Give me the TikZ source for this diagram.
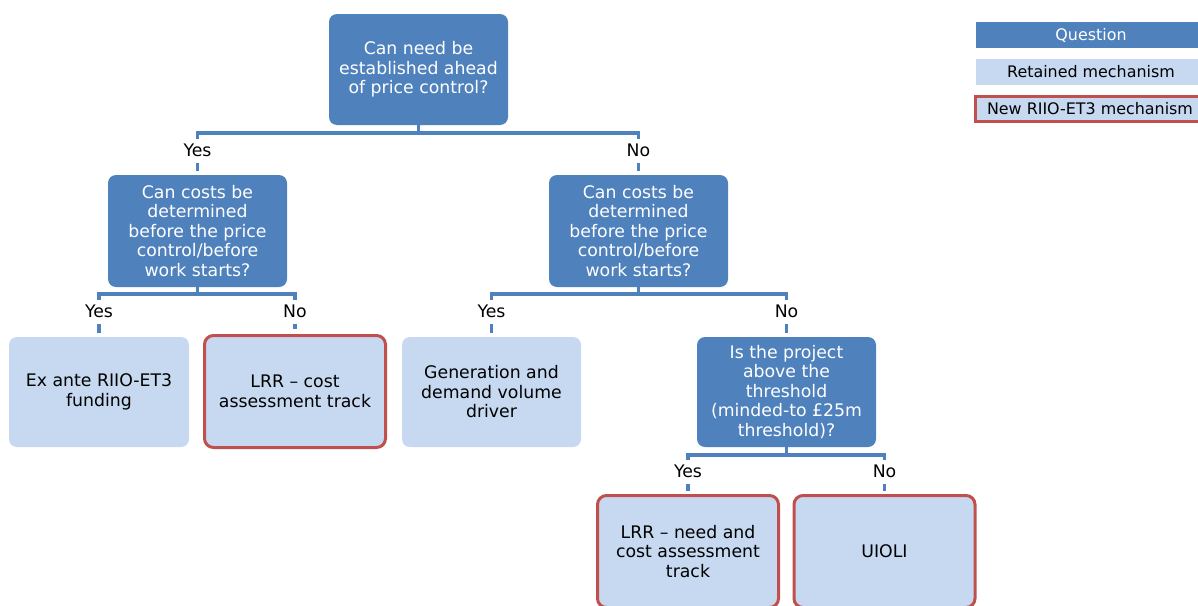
\documentclass[tikz,border=0pt]{standalone}
\usepackage{fontspec}
\setmainfont{DejaVu Sans}
\definecolor{qblue}{HTML}{4F81BD}
\definecolor{lblue}{HTML}{C6D9F0}
\definecolor{nred}{HTML}{C0504D}
\begin{document}
\begin{tikzpicture}[x=1pt,y=-1pt,
  font=\fontsize{17.3}{19.5}\selectfont,
  qbox/.style={fill=qblue, rounded corners=8pt, text=white, align=center,
    minimum width=179pt, minimum height=111pt, inner sep=0pt},
  rbox/.style={fill=lblue, rounded corners=8pt, text=black, align=center,
    minimum width=180pt, minimum height=110pt, inner sep=0pt},
  nbox/.style={fill=lblue, draw=nred, line width=3pt, rounded corners=9pt, text=black, align=center,
    minimum width=181pt, minimum height=112pt, inner sep=0pt},
  lab/.style={inner sep=0pt, text height=13pt, text depth=3.5pt},
  conn/.style={draw=qblue, line width=3.5pt},
  legfont/.style={font=\fontsize{15.9}{19}\selectfont},
  legq/.style={legfont, fill=qblue, text=white, minimum width=230pt, minimum height=26pt, inner sep=0pt},
  legr/.style={legfont, fill=lblue, text=black, minimum width=230pt, minimum height=26pt, inner sep=0pt},
  legn/.style={legfont, fill=lblue, draw=nred, line width=3pt, text=black, minimum width=229pt, minimum height=25pt, inner sep=0pt}
]
\useasboundingbox (0,0) rectangle (1198,605);

% questions
\node[qbox] (q1) at (418.5,69.5) {Can need be\\established ahead\\of price control?};
\node[qbox, minimum height=112pt] (q2l) at (197.5,231) {Can costs be\\determined\\before the price\\control/before\\work starts?};
\node[qbox, minimum height=112pt] (q2r) at (638.5,231) {Can costs be\\determined\\before the price\\control/before\\work starts?};
\node[qbox, minimum height=110pt] (q3) at (786.5,392) {Is the project\\above the\\threshold\\(minded-to £25m\\threshold)?};

% outcomes
\node[rbox] (l1) at (99,392) {Ex ante RIIO-ET3\\funding};
\node[nbox] (l2) at (295,391.5) {LRR – cost\\assessment track};
\node[rbox, minimum width=179pt] (l3) at (491.5,392) {Generation and\\demand volume\\driver};
\node[nbox] (l4) at (688,551.5) {LRR – need and\\cost assessment\\track};
\node[nbox] (l5) at (884.5,551.5) {UIOLI};

% labels
\node[lab] (y1) at (197.5,151.25) {Yes};
\node[lab] (n1) at (638.5,151.25) {No};
\node[lab] (y2) at (99,312.25) {Yes};
\node[lab] (n2) at (295,312.25) {No};
\node[lab] (y3) at (491.5,312.25) {Yes};
\node[lab] (n3) at (786.5,312.25) {No};
\node[lab] (y4) at (688,472.25) {Yes};
\node[lab] (n4) at (884.5,472.25) {No};

% connectors level 1
\draw[conn] (q1.south) -- (q1.south |- 0,133);
\draw[conn, shorten <=4pt, shorten >=4pt] (y1.north) |- (q1.south |- 0,133) -| (n1.north);
\draw[conn, shorten <=3pt, shorten >=4pt] (y1.south) -- (y1.south |- q2l.north);
\draw[conn, shorten <=3pt, shorten >=4pt] (n1.south) -- (n1.south |- q2r.north);

% level 2 left
\draw[conn] (q2l.south) -- (q2l.south |- 0,294);
\draw[conn, shorten <=4pt, shorten >=4pt] (y2.north) |- (q2l.south |- 0,294) -| (n2.north);
\draw[conn, shorten <=3pt, shorten >=4pt] (y2.south) -- (y2.south |- l1.north);
\draw[conn, shorten <=3pt, shorten >=5pt] (n2.south) -- (n2.south |- l2.north);

% level 2 right
\draw[conn] (q2r.south) -- (q2r.south |- 0,294);
\draw[conn, shorten <=4pt, shorten >=4pt] (y3.north) |- (q2r.south |- 0,294) -| (n3.north);
\draw[conn, shorten <=3pt, shorten >=4pt] (y3.south) -- (y3.south |- l3.north);
\draw[conn, shorten <=3pt, shorten >=4pt] (n3.south) -- (n3.south |- q3.north);

% level 3
\draw[conn] (q3.south) -- (q3.south |- 0,455);
\draw[conn, shorten <=4pt, shorten >=4pt] (y4.north) |- (q3.south |- 0,455) -| (n4.north);
\draw[conn, shorten <=3pt, shorten >=3pt] (y4.south) -- (y4.south |- l4.north);
\draw[conn, shorten <=3pt, shorten >=3pt] (n4.south) -- (n4.south |- l5.north);

% legend
\node[legq] (kq) at (1091,35) {Question};
\node[legr] (kr) at (1091,72) {Retained mechanism};
\node[legn] (kn) at (1090,109) {New RIIO-ET3 mechanism};
\end{tikzpicture}
\end{document}
